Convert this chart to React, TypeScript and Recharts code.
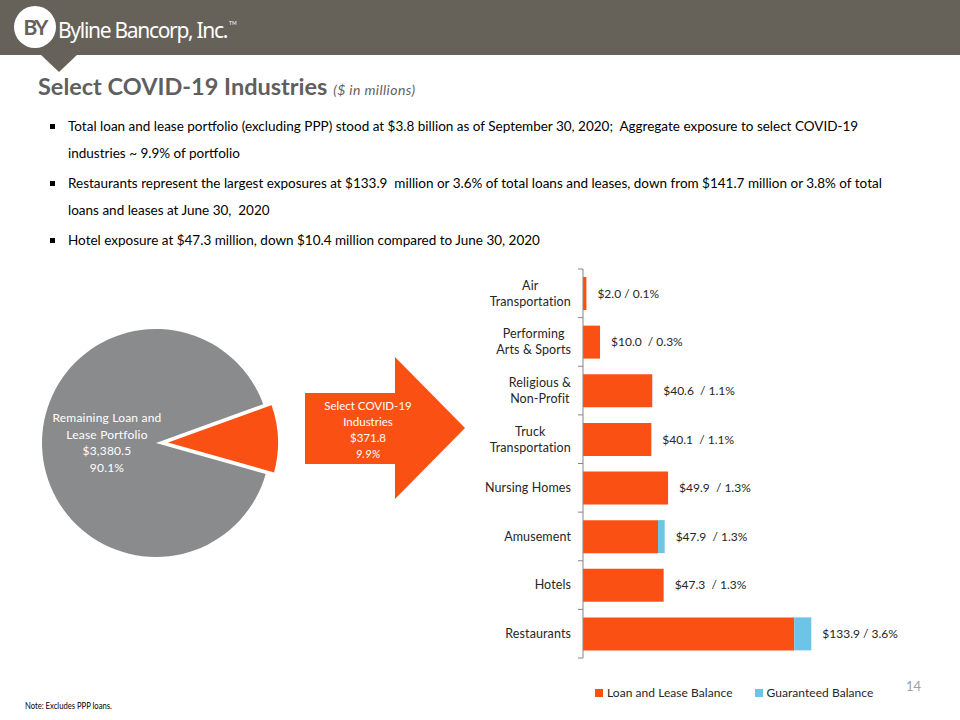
import React from 'react'
import { BarChart, Bar, XAxis, YAxis, Legend, LabelList, PieChart, Pie, Cell } from 'recharts'

// bar chart data, top to bottom
const industries = [
  'Air\nTransportation',
  'Performing\nArts & Sports',
  'Religious &\nNon-Profit',
  'Truck\nTransportation',
  'Nursing Homes',
  'Amusement',
  'Hotels',
  'Restaurants',
]
const loanBalance = [2.0, 10.0, 40.6, 40.1, 49.9, 44.0, 47.3, 123.9]
const guaranteedBalance = [0, 0, 0, 0, 0, 3.9, 0, 10.0]
const barLabels = [
  '$2.0 / 0.1%',
  '$10.0\u00a0 / 0.3%',
  '$40.6\u00a0 / 1.1%',
  '$40.1\u00a0 / 1.1%',
  '$49.9\u00a0 / 1.3%',
  '$47.9\u00a0 / 1.3%',
  '$47.3\u00a0 / 1.3%',
  '$133.9 / 3.6%',
]
const seriesNames = ['Loan and Lease Balance', 'Guaranteed Balance']

// pie data
const portfolioNames = ['Remaining Loan and Lease Portfolio', 'Select COVID-19 Industries']
const portfolioValues = [3380.5, 371.8]
const portfolioPct = ['90.1%', '9.9%']

const ORANGE = '#fb5014'
const BLUE = '#6cc4e6'
const GRAY = '#8a8b8d'
const HEADER = '#666159'
const FONT = 'Lato, "Open Sans", sans-serif'

const barData = industries.map((name, i) => ({
  name,
  loan: loanBalance[i],
  guaranteed: guaranteedBalance[i],
  label: barLabels[i],
}))

const pieData = portfolioNames.map((name, i) => ({ name, value: portfolioValues[i] }))

const PIE_START = 19.9
const PIE_R = 114
const PIE_CX = 151
const PIE_CY = 150
const EXPLODE = 9
const pieTotal = portfolioValues.reduce((a, b) => a + b, 0)
const orangeMid = PIE_START + (360 * portfolioValues[0]) / pieTotal + (180 * portfolioValues[1]) / pieTotal
const dx = EXPLODE * Math.cos((orangeMid * Math.PI) / 180)
const dy = -EXPLODE * Math.sin((orangeMid * Math.PI) / 180)

// bar chart layout
const BAR_TOP = 10
const BAR_PLOT_H = 389
const BAND = BAR_PLOT_H / industries.length

let measureCtx: CanvasRenderingContext2D | null = null
function textWidth(s: string, font: string) {
  if (!measureCtx) measureCtx = document.createElement('canvas').getContext('2d')
  if (!measureCtx) return s.length * 6
  measureCtx.font = font
  return measureCtx.measureText(s).width
}

function IndustryTick(props: any) {
  const { x, y, payload, index } = props
  const lines = String(payload.value).split('\n')
  const font = '12.5px ' + FONT
  const maxW = Math.max(...lines.map((l) => textWidth(l, font) + l.length * 0.1))
  const cx = x - maxW / 2
  const axisX = x + 12
  const lh = 16
  const startY = y - ((lines.length - 1) * lh) / 2
  return (
    <g>
      <line x1={axisX - 5} x2={axisX} y1={y - BAND / 2} y2={y - BAND / 2} stroke="#868686" />
      {index === industries.length - 1 && (
        <line x1={axisX - 5} x2={axisX} y1={y + BAND / 2} y2={y + BAND / 2} stroke="#868686" />
      )}
      {lines.map((l, i) => (
        <text
          key={i}
          x={cx}
          y={startY + i * lh}
          dy="0.35em"
          textAnchor="middle"
          fill="#262626"
          fontSize={12.5}
          letterSpacing={0.1}
          fontFamily={FONT}
        >
          {l}
        </text>
      ))}
    </g>
  )
}

// label after the full stacked bar; the guaranteed part is scaled by the loan bar's own px per unit
function TotalLabel(props: any) {
  const vb = props.viewBox && props.viewBox.width !== undefined ? props.viewBox : props
  const idx = props.index !== undefined ? props.index : loanBalance.indexOf(props.value)
  if (idx < 0 || vb.width === undefined) return null
  const pxPerUnit = vb.width / loanBalance[idx]
  const end = vb.x + vb.width + guaranteedBalance[idx] * pxPerUnit
  return (
    <text
      x={end + 11}
      y={vb.y + vb.height / 2}
      dy="0.35em"
      fill="#262626"
      fontSize={12}
      fontFamily={FONT}
      style={{ whiteSpace: 'pre' }}
    >
      {barLabels[idx]}
    </text>
  )
}

function LegendContent(props: any) {
  const payload = [...(props.payload || [])].sort(
    (a: any, b: any) => seriesNames.indexOf(a.value) - seriesNames.indexOf(b.value)
  )
  return (
    <div style={{ display: 'flex', fontFamily: FONT, fontSize: 12, letterSpacing: 0.05, color: '#262626', whiteSpace: 'nowrap' }}>
      {payload.map((p: any, i: number) => (
        <div key={i} style={{ display: 'flex', alignItems: 'center', marginRight: 22 }}>
          <span style={{ width: 8, height: 8, background: p.color, marginRight: 4, display: 'inline-block' }} />
          <span>{p.value}</span>
        </div>
      ))}
    </div>
  )
}

const bullets = [
  ['Total loan and lease portfolio (excluding PPP) stood at $3.8 billion as of September 30, 2020;\u00a0 Aggregate exposure to select COVID-19', 'industries ~ 9.9% of portfolio'],
  ['Restaurants represent the largest exposures at $133.9\u00a0 million or 3.6% of total loans and leases, down from $141.7 million or 3.8% of total', 'loans and leases at June 30,\u00a0 2020'],
  ['Hotel exposure at $47.3 million, down $10.4 million compared to June 30, 2020'],
]

export default function App() {
  return (
    <div style={{ position: 'absolute', left: 0, top: 0, width: 960, height: 720, background: '#fff', overflow: 'hidden', fontFamily: FONT }}>
      {/* header */}
      <div style={{ position: 'absolute', left: 0, top: 0, width: 960, height: 55, background: HEADER }} />
      <svg style={{ position: 'absolute', left: 0, top: 0 }} width={960} height={80}>
        <polygon points="40,54 78,54 59,72" fill={HEADER} />
        <circle cx={35} cy={27} r={21} fill="#fff" />
        <text x={35} y={35} textAnchor="middle" fontSize={21} fontFamily={FONT} fontWeight={700} fill={HEADER} letterSpacing={-2}>
          BY
        </text>
        <text x={58} y={38} fontSize={21} fontFamily='"Noto Sans", sans-serif' fill="#fff" letterSpacing={-1.3}>
          Byline Bancorp, Inc.
        </text>
        <text x={229} y={25} fontSize={5} fontFamily={FONT} fill="#fff">
          TM
        </text>
      </svg>

      {/* title */}
      <div style={{ position: 'absolute', left: 38, top: 72, color: '#5f5f5f', whiteSpace: 'nowrap' }}>
        <span style={{ fontSize: 23.5, fontWeight: 700 }}>Select COVID-19 Industries </span>
        <span style={{ fontSize: 14, fontStyle: 'italic', letterSpacing: 0.4 }}>($ in millions)</span>
      </div>

      {/* bullets */}
      <div style={{ position: 'absolute', left: 50, top: 113, width: 900, fontSize: 13.5, color: '#000' }}>
        {bullets.map((b, i) => (
          <div key={i} style={{ position: 'relative', paddingLeft: 18, lineHeight: '27px', marginBottom: 3, whiteSpace: 'nowrap' }}>
            <span style={{ position: 'absolute', left: 0, top: 11, width: 5, height: 5, background: '#000' }} />
            {b.map((line, j) => (
              <div key={j}>{line}</div>
            ))}
          </div>
        ))}
      </div>

      {/* pie */}
      <div style={{ position: 'absolute', left: 0, top: 288 }}>
        <PieChart width={300} height={300}>
          <Pie
            data={pieData}
            dataKey="value"
            cx={PIE_CX}
            cy={PIE_CY}
            outerRadius={PIE_R}
            startAngle={PIE_START}
            endAngle={PIE_START + 360}
            isAnimationActive={false}
          >
            <Cell fill={GRAY} stroke="none" />
            <Cell fill="transparent" stroke="none" />
          </Pie>
          <Pie
            data={pieData}
            dataKey="value"
            cx={PIE_CX + dx}
            cy={PIE_CY + dy}
            outerRadius={PIE_R}
            startAngle={PIE_START}
            endAngle={PIE_START + 360}
            isAnimationActive={false}
          >
            <Cell fill="transparent" stroke="none" />
            <Cell fill={ORANGE} stroke="#fff" strokeWidth={2} />
          </Pie>
        </PieChart>
      </div>
      <div
        style={{
          position: 'absolute',
          left: 46,
          top: 410,
          width: 122,
          textAlign: 'center',
          color: '#fff',
          fontSize: 12,
          letterSpacing: 0.2,
          lineHeight: '16.5px',
        }}
      >
        Remaining Loan and
        <br />
        Lease Portfolio
        <br />${portfolioValues[0].toLocaleString('en-US', { minimumFractionDigits: 1 })}
        <br />
        {portfolioPct[0]}
      </div>

      {/* arrow */}
      <svg style={{ position: 'absolute', left: 0, top: 0 }} width={960} height={720} pointerEvents="none">
        <polygon points="305,393 395,393 395,357 465,428 395,499 395,464 305,464" fill={ORANGE} />
        <g fill="#fff" fontSize={11.5} fontFamily={FONT} textAnchor="middle">
          <text x={368} y={410}>Select COVID-19</text>
          <text x={368} y={426}>Industries</text>
          <text x={368} y={442}>${portfolioValues[1].toFixed(1)}</text>
          <text x={368} y={458} fontStyle="italic">
            {portfolioPct[1]}
          </text>
        </g>
      </svg>

      {/* bar chart */}
      <div style={{ position: 'absolute', left: 460, top: 259 }}>
        <BarChart
          width={480}
          height={461}
          data={barData}
          layout="vertical"
          margin={{ top: BAR_TOP, right: 16, bottom: 461 - BAR_TOP - BAR_PLOT_H, left: 0 }}
          barSize={33}
        >
          <XAxis type="number" hide domain={[0, 200]} />
          <YAxis
            type="category"
            dataKey="name"
            width={123}
            axisLine={{ stroke: '#868686' }}
            tickLine={false}
            tickSize={4}
            tickMargin={8}
            interval={0}
            tick={(p: any) => <IndustryTick {...p} />}
          />
          <Bar dataKey="loan" stackId="a" fill={ORANGE} name={seriesNames[0]} isAnimationActive={false}>
            <LabelList dataKey="loan" content={(p: any) => <TotalLabel {...p} />} />
          </Bar>
          <Bar dataKey="guaranteed" stackId="a" fill={BLUE} name={seriesNames[1]} isAnimationActive={false} />
          <Legend
            verticalAlign="middle"
            align="center"
            layout="horizontal"
            content={<LegendContent />}
            wrapperStyle={{ top: 426, left: 135, width: 'auto' }}
          />
        </BarChart>
      </div>

      {/* footer */}
      <div style={{ position: 'absolute', left: 906, top: 678, fontSize: 13, color: '#a0a0a0', fontFamily: FONT }}>14</div>
      <div
        style={{
          position: 'absolute',
          left: 25,
          top: 700,
          fontSize: 9,
          color: '#000',
          whiteSpace: 'nowrap',
          transform: 'scaleX(0.85)',
          transformOrigin: 'left top',
        }}
      >
        Note: Excludes PPP loans.
      </div>
    </div>
  )
}
